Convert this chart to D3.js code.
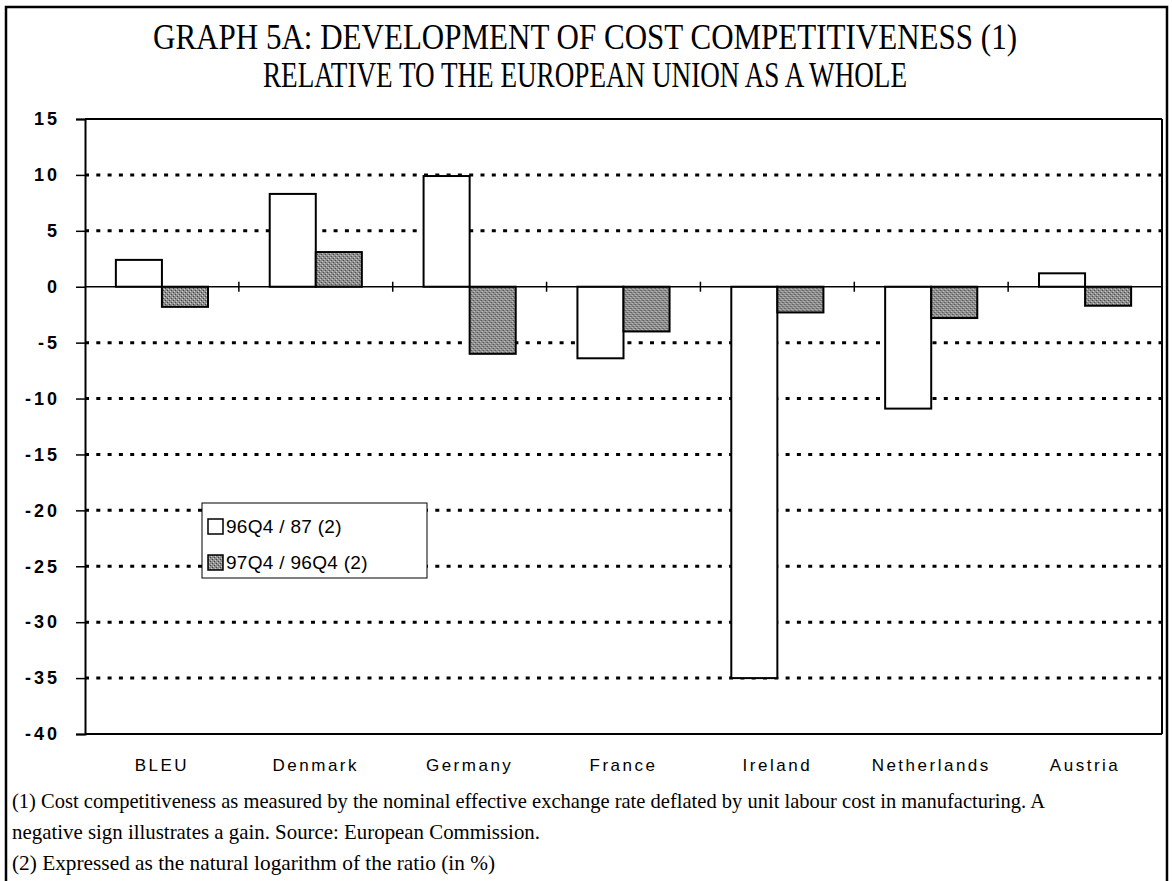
<!DOCTYPE html>
<html>
<head>
<meta charset="utf-8">
<script src="https://cdn.jsdelivr.net/npm/d3@7"></script>
<style>
  body { margin: 0; background: #fff; }
  svg { display: block; }
</style>
</head>
<body>
<svg id="chart" width="1172" height="881"></svg>
<script>
const countries = ['BLEU', 'Denmark', 'Germany', 'France', 'Ireland', 'Netherlands', 'Austria'];
const seriesNames = ['96Q4 / 87 (2)', '97Q4 / 96Q4 (2)'];
const longRun = [2.4, 8.3, 9.9, -6.4, -35.0, -10.9, 1.2];
const lastYear = [-1.8, 3.1, -6.0, -4.0, -2.3, -2.8, -1.7];
const yTicks = [15, 10, 5, 0, -5, -10, -15, -20, -25, -30, -35, -40];
const titleLines = [
  'GRAPH 5A: DEVELOPMENT OF COST COMPETITIVENESS (1)',
  'RELATIVE TO THE EUROPEAN UNION AS A WHOLE'
];
const notes = [
  '(1) Cost competitiveness as measured by the nominal effective exchange rate deflated by unit labour cost in manufacturing. A',
  'negative sign illustrates a gain. Source: European Commission.',
  '(2) Expressed as the natural logarithm of the ratio (in %)'
];

const svg = d3.select('#chart');
const margin = { top: 119, left: 85, right: 1162, bottom: 734 };

// speckled grey fill for the second series
const defs = svg.append('defs');
const pat = defs.append('pattern')
  .attr('id', 'speckle').attr('patternUnits', 'userSpaceOnUse')
  .attr('width', 4).attr('height', 4);
pat.append('rect').attr('width', 4).attr('height', 4).attr('fill', '#8e8e8e');
pat.append('rect').attr('x', 0).attr('y', 0).attr('width', 1).attr('height', 1).attr('fill', '#444');
pat.append('rect').attr('x', 2).attr('y', 2).attr('width', 1).attr('height', 1).attr('fill', '#444');
pat.append('rect').attr('x', 3).attr('y', 1).attr('width', 1).attr('height', 1).attr('fill', '#d0d0d0');
pat.append('rect').attr('x', 1).attr('y', 3).attr('width', 1).attr('height', 1).attr('fill', '#d0d0d0');

// outer frame (bottom edge runs off the page)
svg.append('path')
  .attr('d', 'M6,890 V7 H1167 V890')
  .attr('fill', 'none').attr('stroke', '#000').attr('stroke-width', 2.5);

// title
svg.append('g').selectAll('text')
  .data(titleLines)
  .join('text')
  .attr('x', 585)
  .attr('y', (d, i) => 49 + i * 38)
  .attr('text-anchor', 'middle')
  .attr('font-family', 'Liberation Serif, Times New Roman, serif')
  .attr('font-size', 36)
  .attr('textLength', (d, i) => i === 0 ? 864 : 644)
  .attr('lengthAdjust', 'spacingAndGlyphs')
  .text(d => d);

const x = d3.scaleBand().domain(countries).range([margin.left, margin.right]).paddingInner(0).paddingOuter(0);
const inner = d3.scaleBand().domain([0, 1]).range([0, x.bandwidth()]).paddingOuter(0.67).paddingInner(0);
const y = d3.scaleLinear().domain([-40, 15]).range([margin.bottom, margin.top]);

const plot = svg.append('g');

// dotted grid lines
plot.append('g').selectAll('line')
  .data(yTicks.filter(t => t !== 0 && t !== 15 && t !== -40))
  .join('line')
  .attr('x1', margin.left).attr('x2', margin.right)
  .attr('y1', d => y(d)).attr('y2', d => y(d))
  .attr('stroke', '#000').attr('stroke-width', 3)
  .attr('stroke-dasharray', '4,7.3');

// top and bottom of plot area
plot.append('g').selectAll('line')
  .data([15, -40])
  .join('line')
  .attr('x1', margin.left).attr('x2', margin.right)
  .attr('y1', d => y(d)).attr('y2', d => y(d))
  .attr('stroke', '#000').attr('stroke-width', 2.2);

// right edge of plot
plot.append('line')
  .attr('x1', margin.right).attr('x2', margin.right)
  .attr('y1', y(15)).attr('y2', y(-40))
  .attr('stroke', '#000').attr('stroke-width', 2);

// bars
const groups = plot.append('g').selectAll('g')
  .data(countries.map((c, i) => ({ c, vals: [longRun[i], lastYear[i]] })))
  .join('g')
  .attr('transform', d => `translate(${x(d.c)},0)`);

groups.selectAll('rect')
  .data(d => d.vals.map((v, k) => ({ v, k })))
  .join('rect')
  .attr('x', d => inner(d.k))
  .attr('width', inner.bandwidth())
  .attr('y', d => Math.min(y(d.v), y(0)))
  .attr('height', d => Math.abs(y(d.v) - y(0)))
  .attr('fill', d => d.k === 0 ? '#fff' : 'url(#speckle)')
  .attr('stroke', '#000').attr('stroke-width', 2);

// zero line with category ticks
plot.append('line')
  .attr('x1', margin.left).attr('x2', margin.right)
  .attr('y1', y(0)).attr('y2', y(0))
  .attr('stroke', '#000').attr('stroke-width', 1.5);
plot.append('g').selectAll('line')
  .data(countries.slice(1))
  .join('line')
  .attr('x1', d => x(d)).attr('x2', d => x(d))
  .attr('y1', y(0) - 5).attr('y2', y(0) + 5)
  .attr('stroke', '#000').attr('stroke-width', 1.5);

// y axis
const yAxis = d3.axisLeft(y).tickValues(yTicks).tickSize(9).tickPadding(16).tickFormat(d3.format('d'));
const yG = plot.append('g')
  .attr('transform', `translate(${margin.left},0)`)
  .call(yAxis);
yG.select('.domain').attr('stroke-width', 2);
yG.selectAll('.tick line').attr('stroke-width', 1.5);
yG.selectAll('.tick text')
  .attr('font-family', 'Liberation Sans, Arial, sans-serif')
  .attr('font-weight', 'bold')
  .attr('font-size', 18)
  .attr('letter-spacing', 3)
  .attr('fill', '#000')
  .text(d => String(d).replace('−', '-'));

// category labels
plot.append('g').selectAll('text')
  .data(countries)
  .join('text')
  .attr('x', d => x(d) + x.bandwidth() / 2)
  .attr('y', 771)
  .attr('text-anchor', 'middle')
  .attr('font-family', 'Liberation Sans, Arial, sans-serif')
  .attr('font-size', 17)
  .attr('letter-spacing', 2.5)
  .text(d => d);

// legend
const legend = svg.append('g').attr('transform', 'translate(202,503)');
legend.append('rect')
  .attr('width', 225).attr('height', 75)
  .attr('fill', '#fff').attr('stroke', '#000').attr('stroke-width', 1);
const items = legend.selectAll('g.item')
  .data(seriesNames)
  .join('g')
  .attr('class', 'item')
  .attr('transform', (d, i) => `translate(6,${16 + i * 36})`);
items.append('rect')
  .attr('width', 15).attr('height', 15)
  .attr('fill', (d, i) => i === 0 ? '#fff' : 'url(#speckle)')
  .attr('stroke', '#000').attr('stroke-width', 1.5);
items.append('text')
  .attr('x', 18).attr('y', 14)
  .attr('font-family', 'Liberation Sans, Arial, sans-serif')
  .attr('font-size', 19)
  .attr('letter-spacing', 0.3)
  .text(d => d);

// footnotes
svg.append('g').selectAll('text')
  .data(notes)
  .join('text')
  .attr('x', 12)
  .attr('y', (d, i) => 808 + i * 31)
  .attr('font-family', 'Liberation Serif, Times New Roman, serif')
  .attr('font-size', 22)
  .attr('textLength', (d, i) => [1033, 528, 483][i])
  .attr('lengthAdjust', 'spacingAndGlyphs')
  .text(d => d);
</script>
</body>
</html>
